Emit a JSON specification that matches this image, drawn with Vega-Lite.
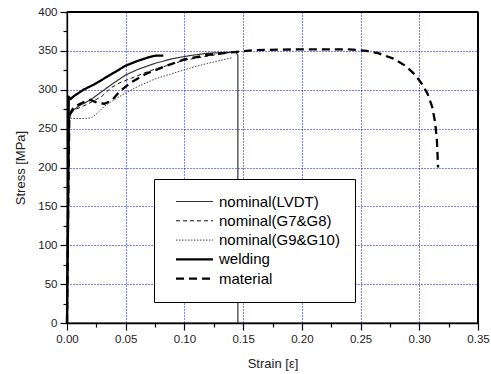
{
  "$schema": "https://vega.github.io/schema/vega-lite/v6.json",
  "width": 411,
  "height": 311,
  "autosize": {"type": "none"},
  "padding": {"left": 67, "top": 12, "right": 13, "bottom": 51},
  "background": "white",
  "config": {
    "view": {"stroke": "#000", "strokeWidth": 1.3},
    "font": "Liberation Sans",
    "axis": {"labelFont": "Liberation Sans", "titleFont": "Liberation Sans", "labelColor": "#222", "titleColor": "#222", "domainColor": "#000", "tickColor": "#000", "domainWidth": 1.3, "tickWidth": 1.2}
  },
  "data": {"values": [
    {"s":"nominal(LVDT)","i":0,"x":0,"y":0},{"s":"nominal(LVDT)","i":1,"x":0.001,"y":150},{"s":"nominal(LVDT)","i":2,"x":0.002,"y":262},{"s":"nominal(LVDT)","i":3,"x":0.004,"y":272},{"s":"nominal(LVDT)","i":4,"x":0.01,"y":279},{"s":"nominal(LVDT)","i":5,"x":0.02,"y":287},{"s":"nominal(LVDT)","i":6,"x":0.03,"y":298},{"s":"nominal(LVDT)","i":7,"x":0.04,"y":309},{"s":"nominal(LVDT)","i":8,"x":0.05,"y":319},{"s":"nominal(LVDT)","i":9,"x":0.06,"y":326},{"s":"nominal(LVDT)","i":10,"x":0.075,"y":334},{"s":"nominal(LVDT)","i":11,"x":0.09,"y":340},{"s":"nominal(LVDT)","i":12,"x":0.105,"y":344},{"s":"nominal(LVDT)","i":13,"x":0.12,"y":347},{"s":"nominal(LVDT)","i":14,"x":0.135,"y":348},{"s":"nominal(LVDT)","i":15,"x":0.144,"y":348},{"s":"nominal(LVDT)","i":16,"x":0.1455,"y":344},{"s":"nominal(LVDT)","i":17,"x":0.1455,"y":0},
    {"s":"nominal(G7&G8)","i":0,"x":0,"y":0},{"s":"nominal(G7&G8)","i":1,"x":0.001,"y":150},{"s":"nominal(G7&G8)","i":2,"x":0.002,"y":266},{"s":"nominal(G7&G8)","i":3,"x":0.006,"y":274},{"s":"nominal(G7&G8)","i":4,"x":0.014,"y":279},{"s":"nominal(G7&G8)","i":5,"x":0.022,"y":285},{"s":"nominal(G7&G8)","i":6,"x":0.03,"y":292},{"s":"nominal(G7&G8)","i":7,"x":0.037,"y":302},{"s":"nominal(G7&G8)","i":8,"x":0.045,"y":309},{"s":"nominal(G7&G8)","i":9,"x":0.055,"y":315},{"s":"nominal(G7&G8)","i":10,"x":0.07,"y":324},{"s":"nominal(G7&G8)","i":11,"x":0.085,"y":331},{"s":"nominal(G7&G8)","i":12,"x":0.1,"y":338},{"s":"nominal(G7&G8)","i":13,"x":0.115,"y":342},{"s":"nominal(G7&G8)","i":14,"x":0.13,"y":346},{"s":"nominal(G7&G8)","i":15,"x":0.14,"y":348},
    {"s":"nominal(G9&G10)","i":0,"x":0,"y":0},{"s":"nominal(G9&G10)","i":1,"x":0.001,"y":150},{"s":"nominal(G9&G10)","i":2,"x":0.0015,"y":264},{"s":"nominal(G9&G10)","i":3,"x":0.005,"y":263},{"s":"nominal(G9&G10)","i":4,"x":0.015,"y":263},{"s":"nominal(G9&G10)","i":5,"x":0.021,"y":264},{"s":"nominal(G9&G10)","i":6,"x":0.026,"y":270},{"s":"nominal(G9&G10)","i":7,"x":0.032,"y":279},{"s":"nominal(G9&G10)","i":8,"x":0.04,"y":287},{"s":"nominal(G9&G10)","i":9,"x":0.05,"y":296},{"s":"nominal(G9&G10)","i":10,"x":0.06,"y":304},{"s":"nominal(G9&G10)","i":11,"x":0.075,"y":314},{"s":"nominal(G9&G10)","i":12,"x":0.09,"y":321},{"s":"nominal(G9&G10)","i":13,"x":0.105,"y":328},{"s":"nominal(G9&G10)","i":14,"x":0.12,"y":334},{"s":"nominal(G9&G10)","i":15,"x":0.14,"y":341},
    {"s":"welding","i":0,"x":0,"y":0},{"s":"welding","i":1,"x":0.001,"y":150},{"s":"welding","i":2,"x":0.0015,"y":291},{"s":"welding","i":3,"x":0.003,"y":288},{"s":"welding","i":4,"x":0.006,"y":292},{"s":"welding","i":5,"x":0.014,"y":300},{"s":"welding","i":6,"x":0.022,"y":306},{"s":"welding","i":7,"x":0.03,"y":313},{"s":"welding","i":8,"x":0.04,"y":322},{"s":"welding","i":9,"x":0.05,"y":331},{"s":"welding","i":10,"x":0.06,"y":337},{"s":"welding","i":11,"x":0.07,"y":342},{"s":"welding","i":12,"x":0.076,"y":344},{"s":"welding","i":13,"x":0.082,"y":344},
    {"s":"material","i":0,"x":0,"y":0},{"s":"material","i":1,"x":0.001,"y":150},{"s":"material","i":2,"x":0.002,"y":268},{"s":"material","i":3,"x":0.006,"y":278},{"s":"material","i":4,"x":0.014,"y":284},{"s":"material","i":5,"x":0.02,"y":287},{"s":"material","i":6,"x":0.026,"y":283},{"s":"material","i":7,"x":0.032,"y":282},{"s":"material","i":8,"x":0.038,"y":286},{"s":"material","i":9,"x":0.045,"y":298},{"s":"material","i":10,"x":0.055,"y":310},{"s":"material","i":11,"x":0.068,"y":321},{"s":"material","i":12,"x":0.085,"y":331},{"s":"material","i":13,"x":0.1,"y":339},{"s":"material","i":14,"x":0.12,"y":345},{"s":"material","i":15,"x":0.14,"y":348},{"s":"material","i":16,"x":0.16,"y":351},{"s":"material","i":17,"x":0.2,"y":352},{"s":"material","i":18,"x":0.24,"y":352},{"s":"material","i":19,"x":0.255,"y":350},{"s":"material","i":20,"x":0.265,"y":347},{"s":"material","i":21,"x":0.278,"y":340},{"s":"material","i":22,"x":0.288,"y":331},{"s":"material","i":23,"x":0.296,"y":320},{"s":"material","i":24,"x":0.302,"y":308},{"s":"material","i":25,"x":0.307,"y":295},{"s":"material","i":26,"x":0.311,"y":278},{"s":"material","i":27,"x":0.3135,"y":258},{"s":"material","i":28,"x":0.315,"y":235},{"s":"material","i":29,"x":0.316,"y":200}
  ]},
  "layer": [
    {
      "mark": {"type": "line", "strokeJoin": "round"},
      "encoding": {
        "x": {"field": "x", "type": "quantitative", "scale": {"domain": [0, 0.35], "nice": false, "zero": false},
          "axis": {"orient": "bottom", "title": "Strain [ε]", "titleFontSize": 13, "titleFontWeight": "normal", "titlePadding": 13,
            "values": [0,0.025,0.05,0.075,0.1,0.125,0.15,0.175,0.2,0.225,0.25,0.275,0.3,0.325,0.35],
            "labelExpr": "round(datum.value*1000) % 50 == 0 ? format(datum.value, '.2f') : ''",
            "labelFontSize": 11.5, "labelPadding": 3, "labelFlush": false,
            "tickSize": {"condition": {"test": "round(datum.value*1000) % 50 == 0", "value": 7}, "value": 4},
            "grid": true, "gridColor": "#0000ff", "gridDash": [1, 2], "gridWidth": 1,
            "gridOpacity": {"condition": {"test": "round(datum.value*1000) % 50 == 0 && datum.value > 0.01 && datum.value < 0.34", "value": 1}, "value": 0}}},
        "y": {"field": "y", "type": "quantitative", "scale": {"domain": [0, 400], "nice": false},
          "axis": {"orient": "left", "title": "Stress [MPa]", "titleFontSize": 13, "titleFontWeight": "normal", "titlePadding": 10,
            "values": [0,25,50,75,100,125,150,175,200,225,250,275,300,325,350,375,400],
            "labelExpr": "datum.value % 50 == 0 ? datum.label : ''",
            "labelFontSize": 11.5, "labelPadding": 3, "labelFlush": false,
            "tickSize": {"condition": {"test": "datum.value % 50 == 0", "value": 7}, "value": 4},
            "grid": true, "gridColor": "#0000ff", "gridDash": [1, 2], "gridWidth": 1,
            "gridOpacity": {"condition": {"test": "datum.value % 50 == 0 && datum.value > 0 && datum.value < 400", "value": 1}, "value": 0}}},
        "color": {"field": "s", "type": "nominal", "sort": ["nominal(LVDT)", "nominal(G7&G8)", "nominal(G9&G10)", "welding", "material"],
          "scale": {"domain": ["nominal(LVDT)", "nominal(G7&G8)", "nominal(G9&G10)", "welding", "material"], "range": ["#333333", "#111111", "#444444", "#000000", "#000000"]},
          "legend": {"title": null, "orient": "none", "legendX": 87, "legendY": 167, "symbolType": "M-3,0H3", "symbolSize": 152,
            "labelFontSize": 15, "labelFont": "Liberation Sans", "labelColor": "#000", "labelOffset": 17, "rowPadding": 3.3, "padding": 15, "symbolOffset": 18,
            "strokeColor": "#000", "fillColor": "white", "labelLimit": 300, "cornerRadius": 0}},
        "strokeDash": {"field": "s", "type": "nominal", "sort": ["nominal(LVDT)", "nominal(G7&G8)", "nominal(G9&G10)", "welding", "material"],
          "scale": {"domain": ["nominal(LVDT)", "nominal(G7&G8)", "nominal(G9&G10)", "welding", "material"], "range": [[1, 0], [4, 3], [1.5, 1.5], [1, 0], [8, 5]]}},
        "strokeWidth": {"field": "s", "type": "nominal", "sort": ["nominal(LVDT)", "nominal(G7&G8)", "nominal(G9&G10)", "welding", "material"],
          "scale": {"type": "ordinal", "domain": ["nominal(LVDT)", "nominal(G7&G8)", "nominal(G9&G10)", "welding", "material"], "range": [1.2, 1, 1, 2.3, 2.3]}},
        "order": {"field": "i"}
      }
    },
    {
      "mark": {"type": "rule", "color": "#000", "strokeWidth": 1.3},
      "encoding": {"y": {"datum": 400, "type": "quantitative",
          "axis": {"orient": "left", "title": "Stress [MPa]", "titleFontSize": 13, "titleFontWeight": "normal", "titlePadding": 10,
            "values": [0,25,50,75,100,125,150,175,200,225,250,275,300,325,350,375,400],
            "labelExpr": "datum.value % 50 == 0 ? datum.label : ''",
            "labelFontSize": 11.5, "labelPadding": 3, "labelFlush": false,
            "tickSize": {"condition": {"test": "datum.value % 50 == 0", "value": 7}, "value": 4},
            "grid": true, "gridColor": "#0000ff", "gridDash": [1, 2], "gridWidth": 1,
            "gridOpacity": {"condition": {"test": "datum.value % 50 == 0 && datum.value > 0 && datum.value < 400", "value": 1}, "value": 0}}}}
    },
    {
      "mark": {"type": "rule", "color": "#000", "strokeWidth": 1.3},
      "encoding": {"x": {"datum": 0.35, "type": "quantitative",
          "axis": {"orient": "bottom", "title": "Strain [ε]", "titleFontSize": 13, "titleFontWeight": "normal", "titlePadding": 13,
            "values": [0,0.025,0.05,0.075,0.1,0.125,0.15,0.175,0.2,0.225,0.25,0.275,0.3,0.325,0.35],
            "labelExpr": "round(datum.value*1000) % 50 == 0 ? format(datum.value, '.2f') : ''",
            "labelFontSize": 11.5, "labelPadding": 3, "labelFlush": false,
            "tickSize": {"condition": {"test": "round(datum.value*1000) % 50 == 0", "value": 7}, "value": 4},
            "grid": true, "gridColor": "#0000ff", "gridDash": [1, 2], "gridWidth": 1,
            "gridOpacity": {"condition": {"test": "round(datum.value*1000) % 50 == 0 && datum.value > 0.01 && datum.value < 0.34", "value": 1}, "value": 0}}}}
    }
  ]
}
